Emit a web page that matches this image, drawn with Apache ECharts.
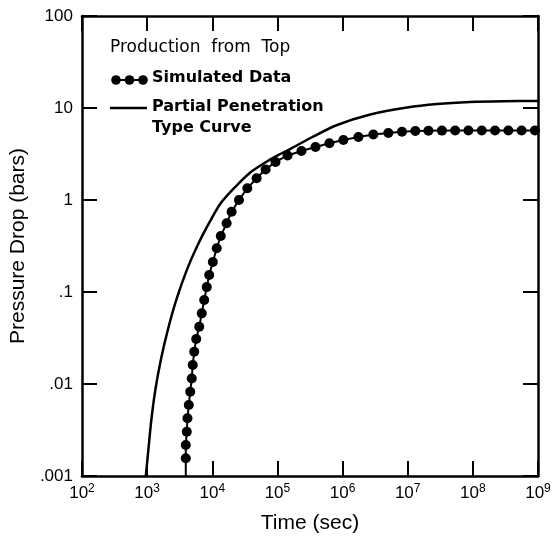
<!DOCTYPE html>
<html>
<head>
<meta charset="utf-8">
<script src="https://cdn.jsdelivr.net/npm/echarts@6/dist/echarts.min.js"></script>
<style>
  html, body { margin: 0; padding: 0; background: #fff; }
  #chart { width: 554px; height: 539px; }
</style>
</head>
<body>
<div id="chart"></div>
<script>
// Simulated pressure drop, production from top (time in sec, pressure in bars)
const simTime = [3920, 3920, 3920, 4060, 4160, 4360, 4590, 4840, 5010, 5280, 5670, 6310, 6890, 7520, 8220,
  8970, 10200, 11700, 13500, 16600, 19800, 25700, 34500, 47900, 65800, 93500, 143000, 234000,
  384000, 628000, 1030000, 1750000, 2970000, 5040000, 8170000, 1.31e7, 2.08e7, 3.35e7, 5.35e7,
  8.55e7, 1.37e8, 2.19e8, 3.51e8, 5.6e8, 8.97e8];
const simPressure = [0.001, 0.00156, 0.00217, 0.00303, 0.00424, 0.00591, 0.00824, 0.0115, 0.0161, 0.0224,
  0.0308, 0.042, 0.0586, 0.0818, 0.113, 0.153, 0.212, 0.299, 0.406, 0.558, 0.746, 1.0, 1.34, 1.72,
  2.15, 2.59, 3.05, 3.41, 3.77, 4.13, 4.49, 4.84, 5.15, 5.35, 5.52, 5.62, 5.66, 5.68, 5.7, 5.7,
  5.7, 5.7, 5.7, 5.7, 5.7];

// Partial penetration type curve
const curveTime = [955, 1044, 1160, 1336, 1622, 2076, 2802, 4057, 5980, 9131, 13460, 22840, 38760,
  61340, 100500, 158900, 321700, 824900, 2.67e6, 9.74e6, 2.81e7, 9.08e7, 2.91e8, 1e9];
const curvePressure = [0.001, 0.00192, 0.00406, 0.00861, 0.0182, 0.0386, 0.0819, 0.173, 0.324, 0.577,
  0.92, 1.40, 2.00, 2.49, 3.05, 3.60, 4.72, 6.54, 8.50, 10.13, 11.05, 11.62, 11.85, 11.91];

const yTickText = { 100: '100', 10: '10', 1: '1', 0.1: '.1', 0.01: '.01', 0.001: '.001' };

const legendTitle = 'Production  from  Top';
const simName = 'Simulated Data';
const curveName = 'Partial Penetration';
const curveName2 = 'Type Curve';

const chart = echarts.init(document.getElementById('chart'), null, { renderer: 'canvas' });

const simData = simTime.map((t, i) => i === 0
  ? { value: [t, simPressure[i]], symbol: 'none' }
  : [t, simPressure[i]]);
const curveData = curveTime.map((t, i) => [t, curvePressure[i]]);

const tickFont = 'Liberation Sans, Arial, sans-serif';
const legendFont = 'DejaVu Sans, sans-serif';

const axisLine = { show: true, lineStyle: { color: '#000', width: 2.5 } };
const axisTick = { show: true, inside: true, length: 15, lineStyle: { color: '#000', width: 2 } };

chart.setOption({
  animation: false,
  backgroundColor: '#fff',
  grid: { left: 81, right: 16, top: 16, bottom: 63, containLabel: false },
  xAxis: [
    {
      type: 'log', logBase: 10, min: 100, max: 1e9, interval: 1, position: 'bottom',
      axisLine, axisTick, splitLine: { show: false }, minorTick: { show: false },
      axisLabel: {
        color: '#000', fontFamily: tickFont, fontSize: 17, margin: 7,
        formatter: v => '{b|10}{s|' + Math.round(Math.log10(v)) + '}',
        rich: {
          b: { fontSize: 17, fontFamily: tickFont, color: '#000', lineHeight: 20 },
          s: { fontSize: 12, fontFamily: tickFont, color: '#000', verticalAlign: 'top', lineHeight: 12 }
        }
      },
      name: 'Time (sec)', nameLocation: 'middle', nameGap: 37,
      nameTextStyle: { color: '#000', fontFamily: tickFont, fontSize: 21 }
    },
    {
      type: 'log', logBase: 10, min: 100, max: 1e9, interval: 1, position: 'top',
      axisLine, axisTick, axisLabel: { show: false }, splitLine: { show: false }
    }
  ],
  yAxis: [
    {
      type: 'log', logBase: 10, min: 0.001, max: 100, interval: 1, position: 'left',
      axisLine, axisTick, splitLine: { show: false }, minorTick: { show: false },
      axisLabel: {
        color: '#000', fontFamily: tickFont, fontSize: 17, margin: 9,
        formatter: v => {
          const k = Object.keys(yTickText).find(key => Math.abs(Math.log10(+key) - Math.log10(v)) < 1e-6);
          return k ? yTickText[k] : '';
        }
      },
      name: 'Pressure Drop (bars)', nameLocation: 'middle', nameGap: 41, nameRotate: 90,
      nameTextStyle: { color: '#000', fontFamily: tickFont, fontSize: 21 }
    },
    {
      type: 'log', logBase: 10, min: 0.001, max: 100, interval: 1, position: 'right',
      axisLine, axisTick, axisLabel: { show: false }, splitLine: { show: false }
    }
  ],
  series: [
    {
      name: curveName, type: 'line', data: curveData, xAxisIndex: 0, yAxisIndex: 0,
      smooth: 0.3, showSymbol: false, symbol: 'none',
      lineStyle: { color: '#000', width: 2.5 }, z: 3
    },
    {
      name: simName, type: 'line', data: simData, xAxisIndex: 0, yAxisIndex: 0,
      symbol: 'circle', symbolSize: 10, showAllSymbol: true,
      itemStyle: { color: '#000' }, lineStyle: { color: '#000', width: 2 }, z: 4
    }
  ],
  graphic: [
    { type: 'text', left: 110, top: 39, style: { text: legendTitle, fill: '#000', font: '17px ' + legendFont } },
    { type: 'line', shape: { x1: 112, y1: 80, x2: 147, y2: 80 }, style: { stroke: '#000', lineWidth: 2 } },
    { type: 'circle', shape: { cx: 116, cy: 80, r: 4.8 }, style: { fill: '#000' } },
    { type: 'circle', shape: { cx: 129.5, cy: 80, r: 4.8 }, style: { fill: '#000' } },
    { type: 'circle', shape: { cx: 143, cy: 80, r: 4.8 }, style: { fill: '#000' } },
    { type: 'text', left: 152, top: 70, style: { text: simName, fill: '#000', font: 'bold 16px ' + legendFont } },
    { type: 'line', shape: { x1: 110, y1: 108, x2: 147, y2: 108 }, style: { stroke: '#000', lineWidth: 2.5 } },
    { type: 'text', left: 152, top: 99, style: { text: curveName, fill: '#000', font: 'bold 16px ' + legendFont } },
    { type: 'text', left: 152, top: 120, style: { text: curveName2, fill: '#000', font: 'bold 16px ' + legendFont } }
  ]
});
</script>
</body>
</html>
